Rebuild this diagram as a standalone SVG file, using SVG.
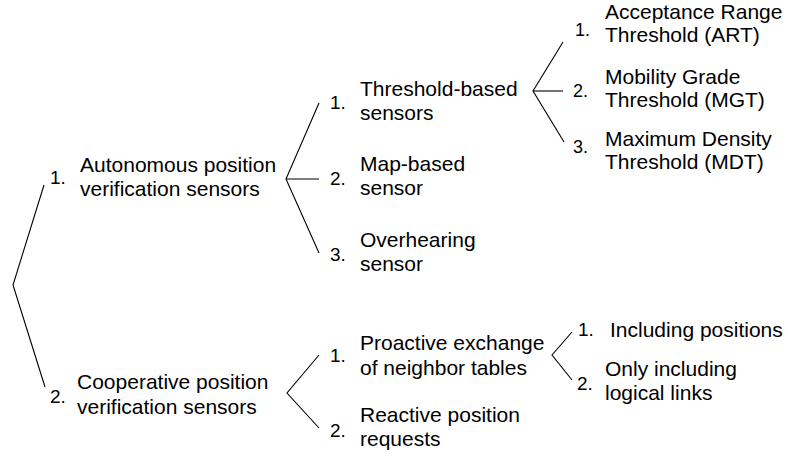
<svg xmlns="http://www.w3.org/2000/svg" width="788" height="459" viewBox="0 0 788 459">
<style>
text{font-family:"Liberation Sans",Arial,sans-serif;fill:#000}
.t{font-size:21px}
.n{font-size:19px}
.m{font-size:18px}
.c{fill:none;stroke:#000;stroke-width:1.1}
</style>
<rect width="788" height="459" fill="#fff"/>
<g id="connectors" class="c">
<polyline class="c" points="44,185 13,285 45,387"/>
<polyline class="c" points="319,103 286,179 319,253"/>
<line class="c" x1="286" y1="179" x2="319" y2="179"/>
<polyline class="c" points="563,42 533,91 564,142"/>
<line class="c" x1="533" y1="91" x2="563" y2="91"/>
<polyline class="c" points="319,355 287,393 319,428"/>
<polyline class="c" points="572,332 552,355 572,380"/>
</g>
<g id="n-autonomous"><text class="n" x="50" y="184">1.</text><text class="t" x="80" y="172">Autonomous position</text><text class="t" x="80" y="196">verification sensors</text></g>
<g id="n-cooperative"><text class="n" x="50" y="403">2.</text><text class="t" x="77" y="389">Cooperative position</text><text class="t" x="77" y="414">verification sensors</text></g>
<g id="n-threshold"><text class="n" x="330" y="109">1.</text><text class="t" x="360" y="96">Threshold-based</text><text class="t" x="360" y="120">sensors</text></g>
<g id="n-map"><text class="n" x="330" y="185">2.</text><text class="t" x="360" y="171">Map-based</text><text class="t" x="360" y="195">sensor</text></g>
<g id="n-overhearing"><text class="n" x="330" y="261">3.</text><text class="t" x="360" y="247">Overhearing</text><text class="t" x="360" y="271">sensor</text></g>
<g id="n-art"><text class="m" x="575" y="36">1.</text><text class="t" x="605" y="19">Acceptance Range</text><text class="t" x="605" y="42">Threshold (ART)</text></g>
<g id="n-mgt"><text class="m" x="573" y="97">2.</text><text class="t" x="605" y="84">Mobility Grade</text><text class="t" x="605" y="107">Threshold (MGT)</text></g>
<g id="n-mdt"><text class="m" x="573" y="153">3.</text><text class="t" x="605" y="146">Maximum Density</text><text class="t" x="605" y="169">Threshold (MDT)</text></g>
<g id="n-proactive"><text class="n" x="330" y="362">1.</text><text class="t" x="360" y="350">Proactive exchange</text><text class="t" x="360" y="375">of neighbor tables</text></g>
<g id="n-reactive"><text class="n" x="330" y="437">2.</text><text class="t" x="360" y="422">Reactive position</text><text class="t" x="360" y="446">requests</text></g>
<g id="n-including"><text class="n" x="578" y="336">1.</text><text class="t" x="610" y="337">Including positions</text></g>
<g id="n-only"><text class="n" x="577" y="390">2.</text><text class="t" x="605" y="376">Only including</text><text class="t" x="605" y="400">logical links</text></g>
</svg>
